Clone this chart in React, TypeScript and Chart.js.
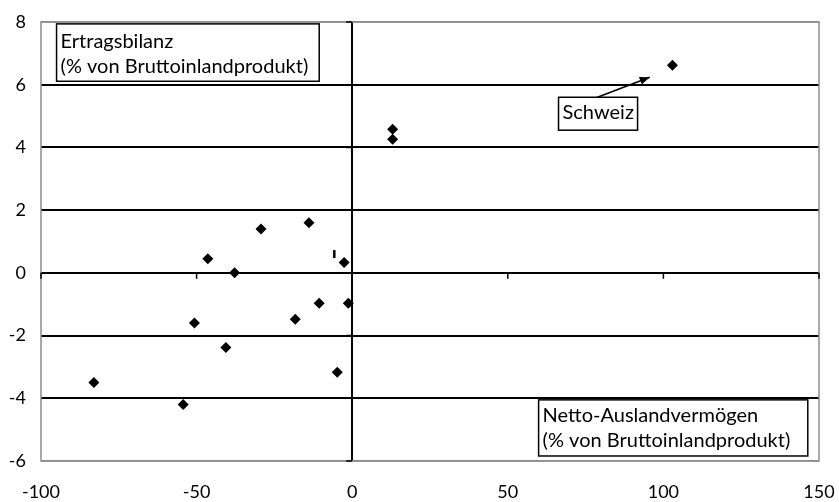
import React, { useEffect, useRef } from "react";
import { Chart, registerables } from "chart.js";

Chart.register(...registerables);

// Netto-Auslandvermögen (% BIP) vs. Ertragsbilanz (% BIP)
const assetsX = [-83, -54.3, -50.7, -46.4, -37.8, -40.6, -29.3, -18.3, -13.9, -10.6, -4.8, -2.6, -1.25, 13.0, 13.0, 102.9];
const balanceY = [-3.5, -4.2, -1.6, 0.45, 0, -2.38, 1.4, -1.48, 1.6, -0.97, -3.17, 0.33, -0.97, 4.58, 4.26, 6.62];

// small partly hidden marker
const stubX = [-5.75];
const stubY = [0.6];

const xTicks = [-100, -50, 0, 50, 100, 150];
const yTicks = [-6, -4, -2, 0, 2, 4, 6, 8];

const FONT = "Lato, 'Open Sans', sans-serif";

const annotationPlugin = {
  id: "frameAndNotes",
  beforeDatasetsDraw(chart: any) {
    const { ctx, chartArea: a, scales } = chart;
    const xs = scales.x;
    const ys = scales.y;
    ctx.save();
    // gray frame
    ctx.strokeStyle = "#8c8c8c";
    ctx.lineWidth = 1.5;
    ctx.strokeRect(a.left, a.top, a.right - a.left, a.bottom - a.top);
    // axis tick marks
    ctx.strokeStyle = "#000";
    ctx.lineWidth = 1.5;
    const y0 = ys.getPixelForValue(0);
    const x0 = xs.getPixelForValue(0);
    ctx.beginPath();
    xTicks.forEach((v) => {
      if (v === 0) return;
      const px = xs.getPixelForValue(v);
      ctx.moveTo(px, y0);
      ctx.lineTo(px, y0 + 6);
    });
    yTicks.forEach((v) => {
      const py = ys.getPixelForValue(v);
      ctx.moveTo(x0, py);
      ctx.lineTo(x0 - 6, py);
    });
    ctx.stroke();
    ctx.restore();
  },
  afterDraw(chart: any) {
    const { ctx, scales } = chart;
    const xs = scales.x;
    const ys = scales.y;
    const box = (x1: number, y1: number, x2: number, y2: number, lines: string[], baselines: number[]) => {
      const l = xs.getPixelForValue(x1);
      const t = ys.getPixelForValue(y1);
      const r = xs.getPixelForValue(x2);
      const b = ys.getPixelForValue(y2);
      ctx.fillStyle = "#fff";
      ctx.fillRect(l, t, r - l, b - t);
      ctx.strokeStyle = "#000";
      ctx.lineWidth = 1.5;
      ctx.strokeRect(l, t, r - l, b - t);
      ctx.fillStyle = "#000";
      ctx.font = `20px ${FONT}`;
      ctx.textAlign = "left";
      ctx.textBaseline = "alphabetic";
      lines.forEach((s, i) => ctx.fillText(s, l + 4, t + baselines[i]));
    };
    ctx.save();
    box(-95.0, 7.94, -10.6, 6.11, ["Ertragsbilanz", "(% von Bruttoinlandprodukt)"], [24, 49]);
    box(59.9, -4.05, 146.4, -5.84, ["Netto-Auslandvermögen", "(% von Bruttoinlandprodukt)"], [22, 47]);
    box(66.3, 5.6, 91.7, 4.55, ["Schweiz"], [22]);

    // arrow towards the Swiss point
    const ax1 = xs.getPixelForValue(78.6);
    const ay1 = ys.getPixelForValue(5.59);
    const ax2 = xs.getPixelForValue(95.6);
    const ay2 = ys.getPixelForValue(6.24);
    ctx.strokeStyle = "#000";
    ctx.fillStyle = "#000";
    ctx.lineWidth = 1.5;
    ctx.beginPath();
    ctx.moveTo(ax1, ay1);
    ctx.lineTo(ax2, ay2);
    ctx.stroke();
    const ang = Math.atan2(ay2 - ay1, ax2 - ax1);
    const len = 10;
    const w = 4;
    ctx.beginPath();
    ctx.moveTo(ax2, ay2);
    ctx.lineTo(ax2 - len * Math.cos(ang) + w * Math.sin(ang), ay2 - len * Math.sin(ang) - w * Math.cos(ang));
    ctx.lineTo(ax2 - len * Math.cos(ang) - w * Math.sin(ang), ay2 - len * Math.sin(ang) + w * Math.cos(ang));
    ctx.closePath();
    ctx.fill();
    ctx.restore();
  },
};

export default function App() {
  const ref = useRef<HTMLCanvasElement>(null);

  useEffect(() => {
    if (!ref.current) return;
    const points = assetsX.map((x, i) => ({ x, y: balanceY[i] }));
    const stub = stubX.map((x, i) => ({ x, y: stubY[i] }));
    const chart = new Chart(ref.current, {
      type: "scatter",
      data: {
        datasets: [
          {
            data: points,
            pointStyle: "rectRot",
            pointRadius: 5.5,
            backgroundColor: "#000",
            borderColor: "#000",
            borderWidth: 0,
          },
          {
            data: stub,
            pointStyle: "line",
            rotation: 90,
            pointRadius: 4,
            borderColor: "#000",
            borderWidth: 2.5,
          },
        ],
      },
      options: {
        animation: false,
        responsive: false,
        devicePixelRatio: 1,
        layout: { padding: { top: 22, right: 20, left: 0, bottom: 0 } },
        plugins: { legend: { display: false }, tooltip: { enabled: false } },
        scales: {
          x: {
            type: "linear",
            min: -100,
            max: 150,
            afterBuildTicks: (s: any) => {
              s.ticks = xTicks.map((value) => ({ value }));
            },
            afterFit: (s: any) => {
              s.height = 41;
              s.paddingLeft = 0;
              s.paddingRight = 0;
            },
            ticks: { color: "#000", font: { family: FONT, size: 18 }, padding: 20, maxRotation: 0 },
            grid: {
              drawTicks: false,
              lineWidth: 2,
              color: (c: any) => (c.tick && c.tick.value === 0 ? "#000" : "rgba(0,0,0,0)"),
            },
            border: { display: false },
          },
          y: {
            type: "linear",
            min: -6,
            max: 8,
            afterBuildTicks: (s: any) => {
              s.ticks = yTicks.map((value) => ({ value }));
            },
            afterFit: (s: any) => {
              s.width = 41;
              s.paddingTop = 0;
              s.paddingBottom = 0;
            },
            ticks: { color: "#000", font: { family: FONT, size: 18 }, padding: 15 },
            grid: {
              drawTicks: false,
              lineWidth: (c: any) => (c.tick && (c.tick.value === 8 || c.tick.value === -6) ? 1.5 : 2),
              color: (c: any) =>
                c.tick && (c.tick.value === 8 || c.tick.value === -6) ? "#8c8c8c" : "#000",
            },
            border: { display: false },
          },
        },
      },
      plugins: [annotationPlugin],
    });
    return () => chart.destroy();
  }, []);

  return (
    <div style={{ position: "absolute", left: 0, top: 0, width: 839, height: 502, background: "#fff" }}>
      <canvas ref={ref} width={839} height={502} />
    </div>
  );
}
